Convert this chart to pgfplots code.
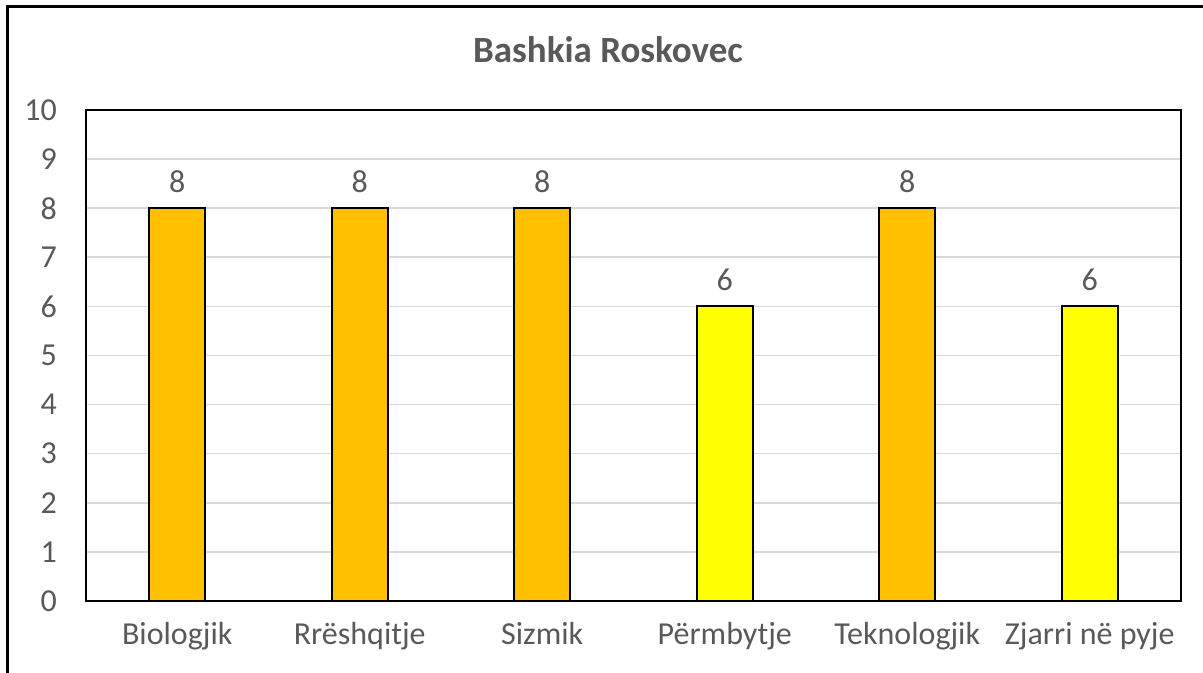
\documentclass[border=0pt]{standalone}
\usepackage{fontspec}
\setmainfont{Carlito}
\usepackage{pgfplots}
\pgfplotsset{compat=1.18}
\definecolor{txt}{HTML}{595959}
\definecolor{orangebar}{HTML}{FFC000}
\definecolor{yellowbar}{HTML}{FFFF00}
\definecolor{gridc}{HTML}{D9D9D9}
\begin{document}
\begin{tikzpicture}
\useasboundingbox (0pt,0pt) rectangle (601.5pt,336.5pt);
\draw[line width=1.5pt] (3.5pt,0pt) -- (3.5pt,333pt) -- (601.5pt,333pt);
\node[font=\fontsize{18.5}{20}\selectfont\bfseries, text=txt] at (304pt,311.5pt) {Bashkia Roskovec};
\coordinate (sw) at (43pt,36pt);
\begin{axis}[
  at={(sw)}, anchor=south west,
  scale only axis,
  width=547.5pt, height=245.5pt,
  xmin=-0.5, xmax=5.5,
  ymin=0, ymax=10,
  ytick={0,1,...,10},
  xtick={0,1,2,3,4,5},
  xticklabels={Biologjik,Rrëshqitje,Sizmik,Përmbytje,Teknologjik,Zjarri në pyje},
  ymajorgrids,
  grid style={gridc, line width=0.8pt},
  axis line style={black, line width=1pt},
  major tick length=0pt,
  tick label style={font=\fontsize{16}{18}\selectfont, text=txt},
  /pgf/number format/assume math mode=true,
  yticklabel style={xshift=-11pt},
  xticklabel style={yshift=-7pt},
  ybar, bar width=28pt, bar shift=0pt,
  nodes near coords,
  nodes near coords style={font=\fontsize{16}{18}\selectfont, text=txt, yshift=4pt},
]
\addplot[fill=orangebar, draw=black, line width=1pt] coordinates {(0,8) (1,8) (2,8) (4,8)};
\addplot[fill=yellowbar, draw=black, line width=1pt] coordinates {(3,6) (5,6)};
\end{axis}
\end{tikzpicture}
\end{document}
